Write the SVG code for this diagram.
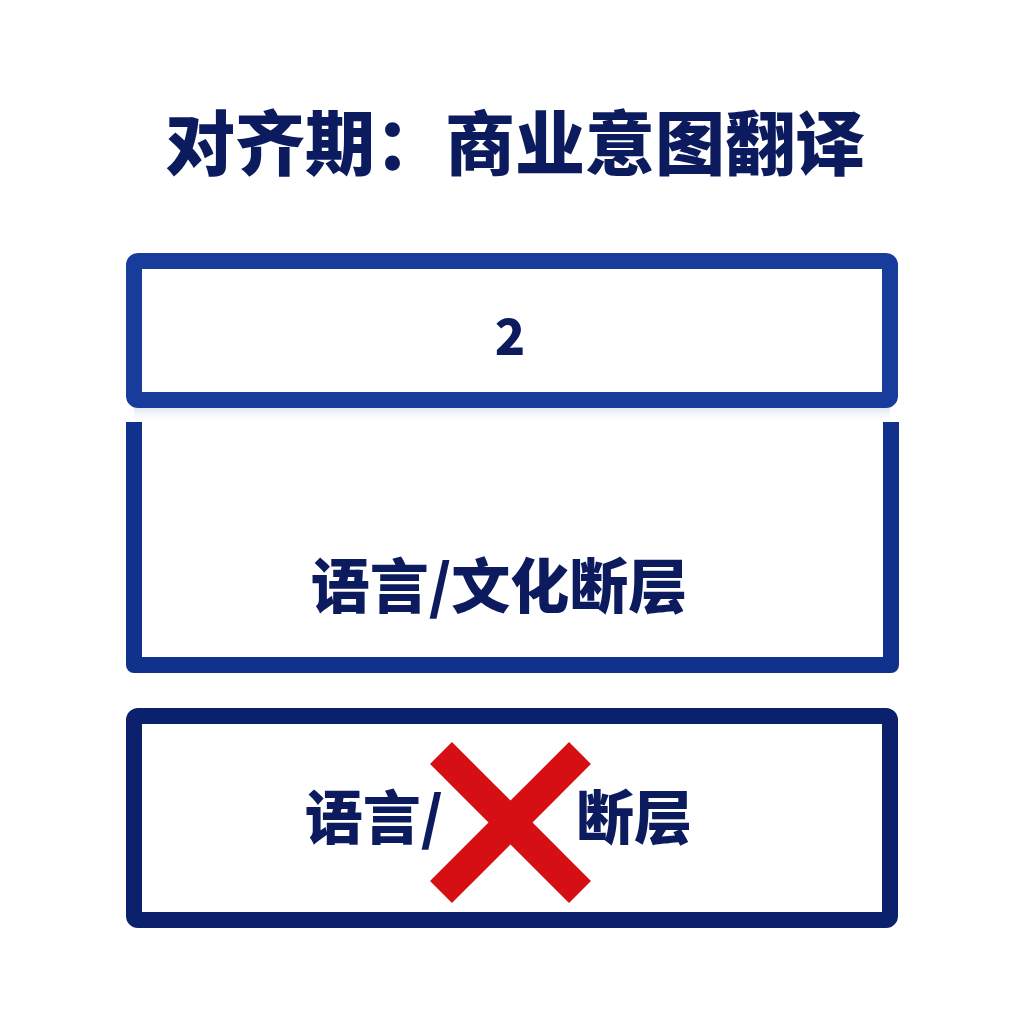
<svg xmlns="http://www.w3.org/2000/svg" width="1024" height="1024" viewBox="0 0 1024 1024">
  <defs>
    <linearGradient id="shadow" x1="0" y1="0" x2="0" y2="1">
      <stop offset="0" stop-color="#dfe5f2" stop-opacity="0.9"/>
      <stop offset="1" stop-color="#ffffff" stop-opacity="0"/>
    </linearGradient>
  </defs>
  <style>
    .t { font-family: "Noto Sans CJK SC", "Noto Sans", sans-serif; font-weight: 900; fill: #0c1a5e; text-anchor: middle; }
    .box { fill: none; stroke-width: 16; stroke-linejoin: round; }
    .x { stroke: #d50f14; stroke-width: 31; stroke-linecap: butt; }
  </style>
  <rect width="1024" height="1024" fill="#ffffff"/>
  <g id="title">
    <text class="t" x="515" y="170" font-size="70">对齐期：商业意图翻译</text>
  </g>
  <rect x="134" y="408" width="756" height="16" fill="url(#shadow)"/>
  <g id="box1">
    <rect class="box" x="134" y="261" width="756" height="139" rx="4" stroke="#183c9c"/>
    <text class="t" x="510" y="355" font-size="50">2</text>
  </g>
  <g id="box2">
    <path class="box" d="M134 422 V665 H891 V422" stroke="#10318c"/>
    <text class="t" x="499" y="608" font-size="59">语言/文化断层</text>
  </g>
  <g id="box3">
    <rect class="box" x="134" y="716" width="756" height="204" rx="4" stroke="#0b216e"/>
    <text class="t" x="374" y="839" font-size="58">语言/</text>
    <text class="t" x="634" y="839" font-size="58">断层</text>
    <line class="x" x1="441" y1="753" x2="580" y2="892"/>
    <line class="x" x1="580" y1="753" x2="441" y2="892"/>
  </g>
</svg>
